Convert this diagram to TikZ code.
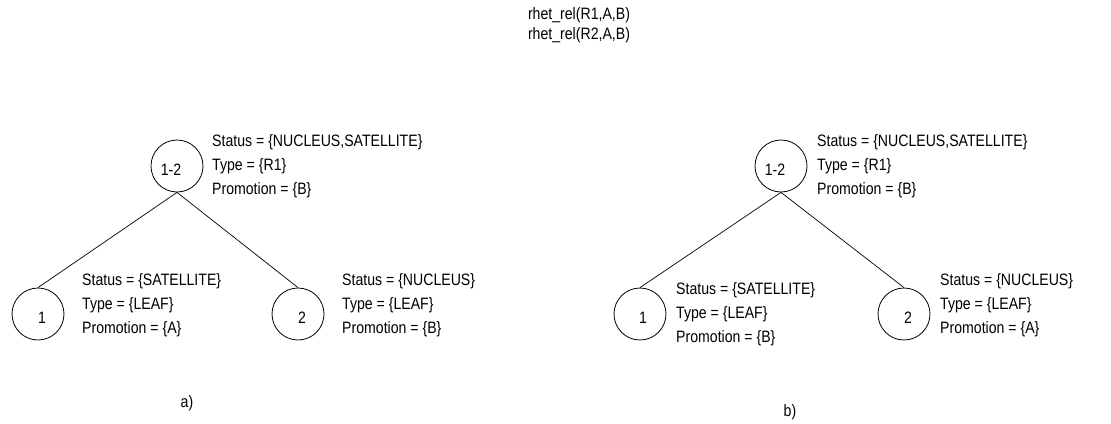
\documentclass[tikz,border=0pt]{standalone}
\usepackage{fontspec}
\setmainfont{Liberation Sans}[FakeStretch=0.855]
\begin{document}
\begin{tikzpicture}[x=1pt,y=-1pt,
  circ/.style={draw,circle,minimum size=52pt,inner sep=0pt,line width=0.8pt},
  lbl/.style={inner sep=0pt,font=\fontsize{16.5}{24}\selectfont},
  attr/.style={lbl,anchor=west,align=left},
  edge/.style={line width=0.7pt}]
\useasboundingbox (0,0) rectangle (1111,423);
% top text
\node[lbl] (t1) at (579,15) {rhet\_rel(R1,A,B)};
\node[lbl] (t2) at (579,35) {rhet\_rel(R2,A,B)};
% tree a
\node[circ] (ar) at (177,166) {};
\node[circ] (a1) at (38,314) {};
\node[circ] (a2) at (298,314) {};
\node[lbl] (arl) at (171,170) {1-2};
\node[lbl] (a1l) at (42,318) {1};
\node[lbl] (a2l) at (302,318) {2};
\draw[edge] (ar.south) -- (a1.north);
\draw[edge] (ar.south) -- (a2.north);
\node[attr] (arA) at (212,166) {Status = \{NUCLEUS,SATELLITE\}\\Type = \{R1\}\\Promotion = \{B\}};
\node[attr] (a1A) at (82,305) {Status = \{SATELLITE\}\\Type = \{LEAF\}\\Promotion = \{A\}};
\node[attr] (a2A) at (342,305) {Status = \{NUCLEUS\}\\Type = \{LEAF\}\\Promotion = \{B\}};
\node[lbl] (capa) at (187,403) {a)};
% tree b
\node[circ] (br) at (781,166) {};
\node[circ] (b1) at (640,314) {};
\node[circ] (b2) at (904,314) {};
\node[lbl] (brl) at (775,170) {1-2};
\node[lbl] (b1l) at (643,318) {1};
\node[lbl] (b2l) at (908,318) {2};
\draw[edge] (br.south) -- (b1.north);
\draw[edge] (br.south) -- (b2.north);
\node[attr] (brA) at (817,166) {Status = \{NUCLEUS,SATELLITE\}\\Type = \{R1\}\\Promotion = \{B\}};
\node[attr] (b1A) at (676,314) {Status = \{SATELLITE\}\\Type = \{LEAF\}\\Promotion = \{B\}};
\node[attr] (b2A) at (940,305) {Status = \{NUCLEUS\}\\Type = \{LEAF\}\\Promotion = \{A\}};
\node[lbl] (capb) at (790,412) {b)};
\end{tikzpicture}
\end{document}
